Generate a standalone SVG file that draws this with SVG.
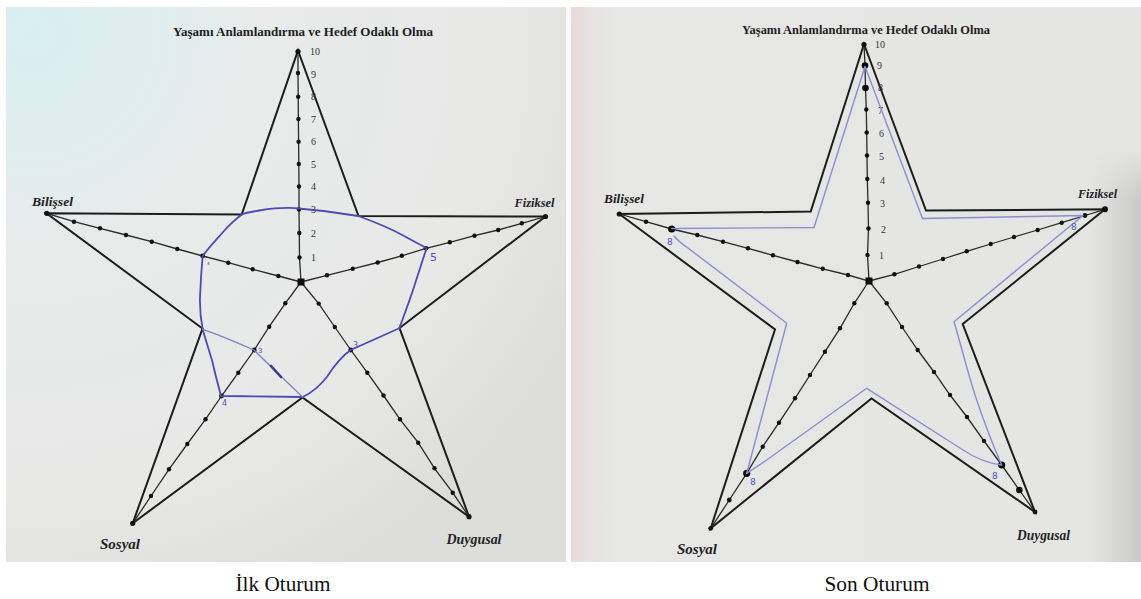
<svg xmlns="http://www.w3.org/2000/svg" width="1141" height="599" viewBox="0 0 1141 599">
  <defs>
    <radialGradient id="paperL" cx="0.05" cy="0.05" r="1.1">
      <stop offset="0" stop-color="#d8eff2"/>
      <stop offset="0.35" stop-color="#e7ebea"/>
      <stop offset="0.75" stop-color="#e8e8e7"/>
      <stop offset="1" stop-color="#dddddc"/>
    </radialGradient>
    <linearGradient id="paperR" x1="0" y1="0" x2="1" y2="0">
      <stop offset="0" stop-color="#eadad9"/>
      <stop offset="0.03" stop-color="#e6e2e1"/>
      <stop offset="0.08" stop-color="#e7e7e5"/>
      <stop offset="1" stop-color="#e4e4e2"/>
    </linearGradient>
    <linearGradient id="edgeR" x1="0" y1="0" x2="1" y2="0">
      <stop offset="0" stop-color="#cfcfcf" stop-opacity="0"/>
      <stop offset="0.5" stop-color="#cdcdcd" stop-opacity="0.6"/>
      <stop offset="1" stop-color="#c6c6c6" stop-opacity="0.9"/>
    </linearGradient>
    <linearGradient id="edgeFade" x1="0" y1="0" x2="0" y2="1">
      <stop offset="0" stop-color="#fff" stop-opacity="0"/>
      <stop offset="0.12" stop-color="#fff" stop-opacity="1"/>
      <stop offset="1" stop-color="#fff" stop-opacity="1"/>
    </linearGradient>
    <mask id="edgeMask">
      <rect x="1090" y="150" width="51" height="412" fill="url(#edgeFade)"/>
    </mask>
  </defs>
  <style>
    .star { fill: none; stroke: #1c1c1c; stroke-width: 2; stroke-linejoin: miter; }
    .axis { fill: none; stroke: #2a2a2a; stroke-width: 1.3; }
    .dot { fill: #111; }
    .big { fill: #0c0c0c; }
    .title { font-family: "Liberation Serif", "DejaVu Serif", serif; font-weight: 700; font-size: 12.5px; fill: #1e1e1e; text-anchor: middle; }
    .dim { font-family: "Liberation Serif", "DejaVu Serif", serif; font-weight: 700; font-style: italic; fill: #222; }
    .num { font-family: "Liberation Serif", "DejaVu Serif", serif; font-size: 10px; fill: #333; }
    .penL { fill: none; stroke: #4d4ab3; stroke-width: 1.8; stroke-linejoin: round; stroke-linecap: round; }
    .penL2 { fill: none; stroke: #7f7fc6; stroke-width: 1.3; stroke-linecap: round; }
    .penR { fill: none; stroke: #8c8ecf; stroke-width: 1.4; stroke-linejoin: round; stroke-linecap: round; }
    .hand { font-family: "DejaVu Sans", sans-serif; fill: #5553b8; }
    .caption { font-family: "Liberation Serif", "DejaVu Serif", serif; font-size: 22px; fill: #111; text-anchor: middle; }
  </style>

  <rect width="1141" height="599" fill="#ffffff"/>

  <!-- first session sheet -->
  <g id="panel-ilk">
    <rect x="6" y="7" width="560" height="555" fill="url(#paperL)"/>
    <text class="title" x="303" y="36" textLength="260" lengthAdjust="spacingAndGlyphs">Yaşamı Anlamlandırma ve Hedef Odaklı Olma</text>

    <g id="ilk-star">
      <polygon class="star" points="298,50.5 358.5,216 545.5,216.5 399.5,328 469,516.7 302.5,397.5 132.7,523.3 202.5,328.5 46.5,213.3 241.7,214.5"/>
    </g>

    <g id="ilk-axes">
      <polyline class="axis" points="301,282 299.5,257.5 299.3,233 299,209.5 299,186.5 298.8,164 298.6,141.7 298.4,119 298.2,96.7 298,73 298,51"/>
      <polyline class="axis" points="301,282 278.3,276 252.7,269.3 228.3,262.7 202.7,256 177.3,249 151.7,241.7 126,235 100,228.3 74,221.7 46.7,213.3"/>
      <polyline class="axis" points="301,282 327,275.3 352.7,268.8 377.7,262.5 401.8,255.8 426,248.3 449.8,242.3 474.5,235.7 498.2,230 521.8,223.3 545.5,216.5"/>
      <polyline class="axis" points="301,282 285.3,303.3 269.2,326.7 254.3,350 238.3,372.7 221.5,396 205.5,419.3 187.3,444 169,469.3 151,496 132.7,523.3"/>
      <polyline class="axis" points="301,282 318.7,303.6 334.8,327 350.8,350 367.3,372.7 383.5,395.5 400,419.3 418.2,442.7 434.5,468.3 452.7,492.7 469,516.7"/>
    </g>

    <g id="ilk-dots">
      <rect class="big" x="297.5" y="278.5" width="7" height="7"/>
      <circle class="dot" cx="299.5" cy="257.5" r="2.2"/><circle class="dot" cx="299.3" cy="233" r="2.2"/><circle class="dot" cx="299" cy="209.5" r="2.2"/><circle class="dot" cx="299" cy="186.5" r="2.2"/><circle class="dot" cx="298.8" cy="164" r="2.2"/><circle class="dot" cx="298.6" cy="141.7" r="2.2"/><circle class="dot" cx="298.4" cy="119" r="2.2"/><circle class="dot" cx="298.2" cy="96.7" r="2.2"/><circle class="dot" cx="298" cy="73" r="2.2"/><circle class="dot" cx="298" cy="51.5" r="2.6"/>
      <circle class="dot" cx="278.3" cy="276" r="2.2"/><circle class="dot" cx="252.7" cy="269.3" r="2.2"/><circle class="dot" cx="228.3" cy="262.7" r="2.2"/><circle class="dot" cx="202.7" cy="256" r="2.4"/><circle class="dot" cx="177.3" cy="249" r="2.2"/><circle class="dot" cx="151.7" cy="241.7" r="2.2"/><circle class="dot" cx="126" cy="235" r="2.2"/><circle class="dot" cx="100" cy="228.3" r="2.2"/><circle class="dot" cx="74" cy="221.7" r="2.2"/><circle class="dot" cx="46.7" cy="213.3" r="2.6"/>
      <circle class="dot" cx="327" cy="275.3" r="2.2"/><circle class="dot" cx="352.7" cy="268.8" r="2.2"/><circle class="dot" cx="377.7" cy="262.5" r="2.2"/><circle class="dot" cx="401.8" cy="255.8" r="2.2"/><circle class="dot" cx="426" cy="248.3" r="2.4"/><circle class="dot" cx="449.8" cy="242.3" r="2.2"/><circle class="dot" cx="474.5" cy="235.7" r="2.2"/><circle class="dot" cx="498.2" cy="230" r="2.2"/><circle class="dot" cx="521.8" cy="223.3" r="2.2"/><circle class="dot" cx="545.5" cy="216.5" r="2.6"/>
      <circle class="dot" cx="285.3" cy="303.3" r="2.2"/><circle class="dot" cx="269.2" cy="326.7" r="2.2"/><circle class="dot" cx="254.3" cy="350" r="2.4"/><circle class="dot" cx="238.3" cy="372.7" r="2.2"/><circle class="dot" cx="221.5" cy="396" r="2.4"/><circle class="dot" cx="205.5" cy="419.3" r="2.2"/><circle class="dot" cx="187.3" cy="444" r="2.2"/><circle class="dot" cx="169" cy="469.3" r="2.2"/><circle class="dot" cx="151" cy="496" r="2.2"/><circle class="dot" cx="132.7" cy="523.3" r="2.6"/>
      <circle class="dot" cx="318.7" cy="303.6" r="2.2"/><circle class="dot" cx="334.8" cy="327" r="2.2"/><circle class="dot" cx="350.8" cy="350" r="2.4"/><circle class="dot" cx="367.3" cy="372.7" r="2.2"/><circle class="dot" cx="383.5" cy="395.5" r="2.2"/><circle class="dot" cx="400" cy="419.3" r="2.2"/><circle class="dot" cx="418.2" cy="442.7" r="2.2"/><circle class="dot" cx="434.5" cy="468.3" r="2.2"/><circle class="dot" cx="452.7" cy="492.7" r="2.2"/><circle class="dot" cx="469" cy="516.7" r="2.6"/>
    </g>

    <g id="ilk-scale">
      <text class="num" x="310" y="55">10</text>
      <text class="num" x="311" y="78">9</text>
      <text class="num" x="311" y="100">8</text>
      <text class="num" x="311" y="123">7</text>
      <text class="num" x="311" y="145">6</text>
      <text class="num" x="311" y="168">5</text>
      <text class="num" x="311" y="190">4</text>
      <text class="num" x="311" y="213">3</text>
      <text class="num" x="311" y="237">2</text>
      <text class="num" x="311" y="261">1</text>
    </g>

    <g id="ilk-labels">
      <text class="dim" x="32" y="206" font-size="13" textLength="41" lengthAdjust="spacingAndGlyphs">Bilişsel</text>
      <text class="dim" x="514.5" y="207" font-size="13" textLength="40" lengthAdjust="spacingAndGlyphs">Fiziksel</text>
      <text class="dim" x="100" y="549" font-size="14.5" textLength="40" lengthAdjust="spacingAndGlyphs">Sosyal</text>
      <text class="dim" x="446.5" y="544" font-size="14.5" textLength="55" lengthAdjust="spacingAndGlyphs">Duygusal</text>
    </g>

    <!-- pen trace of the first session -->
    <g id="ilk-trace">
      <path class="penL" d="M298.5,208.5 C290,207 270,208.5 262,210 C252,211.5 245,213 241.7,214.5
        M298.5,208.5 C312,209.5 330,211 358.3,216
        C372,221 392,229 405,236.5 C415,242 422,245.5 426.5,248.3
        C422,262 417,278 413,290 C408,305 403,318 399.3,328.3
        L350.7,350
        C342,356 334,366 327,376.7 C319,387 311,393 302.7,397
        L221,396
        C218,384 215,374 212.5,362 C209,350 205,338 202.7,329.3
        C200,316 199.5,300 200.5,288 C201,276 201.8,266 202.7,256
        C210,246 218,238 224,231 C230,224 236,219 241.7,214.5"/>
      <path class="penL2" d="M202.7,329.3 C220,335 238,343 254,350 C268,364 285,380 302.7,397.3"/>
      <path d="M271,366 L281,377" stroke="#3b3895" stroke-width="2.6" stroke-linecap="round"/>
      <text class="hand" x="430" y="261" font-size="11">5</text>
      <text class="hand" x="353" y="348" font-size="8">3</text>
      <text class="hand" x="258" y="353" font-size="7" fill="#8b8bc8">3</text>
      <text class="hand" x="222" y="406" font-size="8">4</text>
      <text class="hand" x="207" y="265" font-size="4.5">4</text>
    </g>
  </g>

  <!-- last session sheet -->
  <g id="panel-son">
    <rect x="571" y="7" width="570" height="555" fill="url(#paperR)"/>
    <rect x="1090" y="150" width="51" height="412" fill="url(#edgeR)" mask="url(#edgeMask)"/>
    <text class="title" x="866" y="34" textLength="248" lengthAdjust="spacingAndGlyphs">Yaşamı Anlamlandırma ve Hedef Odaklı Olma</text>

    <g id="son-star">
      <polygon class="star" points="864,44 926,210.5 1105,209.3 962.7,324 1035,512 871.5,398.5 710.7,528.3 775,329.5 619.3,214 810.7,211.5"/>
    </g>

    <g id="son-axes">
      <polyline class="axis" points="869,281 867.5,255 868.5,228.5 868,202.7 867.3,179 867,155.5 866.7,132.5 866.3,109.5 865.5,88 865,65.5 864,44"/>
      <polyline class="axis" points="869,281 848,275 822.7,268.8 797.5,262 773,255.3 748,248.3 723,241.7 697.3,235 671.7,229 646,221.7 619.3,214"/>
      <polyline class="axis" points="869,281 894.4,274.3 919,266.5 943,259 966.7,251.3 990.7,244 1014,237 1037.7,230 1061.7,222.7 1085,215.5 1105,209.3"/>
      <polyline class="axis" points="869,281 854.3,303.3 840,328.3 825,351.7 810,375 795,398.3 779,422.7 762.7,446.7 746.7,473.3 729.3,500 710.7,528.3"/>
      <polyline class="axis" points="869,281 886.7,303.3 902,327 917.7,350 934,372 950,395 967,417 984,441 1001.7,465 1019.3,490 1035,512"/>
    </g>

    <g id="son-dots">
      <rect class="big" x="865.5" y="277.5" width="7" height="7"/>
      <circle class="dot" cx="867.5" cy="255" r="2.2"/><circle class="dot" cx="868.5" cy="228.5" r="2.2"/><circle class="dot" cx="868" cy="202.7" r="2.2"/><circle class="dot" cx="867.3" cy="179" r="2.2"/><circle class="dot" cx="867" cy="155.5" r="2.2"/><circle class="dot" cx="866.7" cy="132.5" r="2.2"/><circle class="dot" cx="866.3" cy="109.5" r="2.2"/><circle class="big" cx="865.5" cy="88" r="3.3"/><circle class="big" cx="865" cy="65.5" r="3.3"/><circle class="dot" cx="864" cy="44.5" r="2.6"/>
      <circle class="dot" cx="848" cy="275" r="2.2"/><circle class="dot" cx="822.7" cy="268.8" r="2.2"/><circle class="dot" cx="797.5" cy="262" r="2.2"/><circle class="dot" cx="773" cy="255.3" r="2.2"/><circle class="dot" cx="748" cy="248.3" r="2.2"/><circle class="dot" cx="723" cy="241.7" r="2.2"/><circle class="dot" cx="697.3" cy="235" r="2.2"/><circle class="big" cx="671.7" cy="229" r="3.6"/><circle class="dot" cx="646" cy="221.7" r="2.2"/><circle class="dot" cx="619.3" cy="214" r="2.6"/>
      <circle class="dot" cx="894.4" cy="274.3" r="2.2"/><circle class="dot" cx="919" cy="266.5" r="2.2"/><circle class="dot" cx="943" cy="259" r="2.2"/><circle class="dot" cx="966.7" cy="251.3" r="2.2"/><circle class="dot" cx="990.7" cy="244" r="2.2"/><circle class="dot" cx="1014" cy="237" r="2.2"/><circle class="dot" cx="1037.7" cy="230" r="2.2"/><circle class="dot" cx="1061.7" cy="222.7" r="2.2"/><circle class="dot" cx="1085" cy="215.5" r="2.4"/><circle class="big" cx="1105" cy="209.3" r="3"/>
      <circle class="dot" cx="854.3" cy="303.3" r="2.2"/><circle class="dot" cx="840" cy="328.3" r="2.2"/><circle class="dot" cx="825" cy="351.7" r="2.2"/><circle class="dot" cx="810" cy="375" r="2.2"/><circle class="dot" cx="795" cy="398.3" r="2.2"/><circle class="dot" cx="779" cy="422.7" r="2.2"/><circle class="dot" cx="762.7" cy="446.7" r="2.2"/><circle class="big" cx="746.7" cy="473.3" r="3.6"/><circle class="dot" cx="729.3" cy="500" r="2.4"/><circle class="dot" cx="710.7" cy="528.3" r="2.4"/>
      <circle class="dot" cx="886.7" cy="303.3" r="2.2"/><circle class="dot" cx="902" cy="327" r="2.2"/><circle class="dot" cx="917.7" cy="350" r="2.2"/><circle class="dot" cx="934" cy="372" r="2.2"/><circle class="dot" cx="950" cy="395" r="2.2"/><circle class="dot" cx="967" cy="417" r="2.2"/><circle class="dot" cx="984" cy="441" r="2.2"/><circle class="big" cx="1001.7" cy="465" r="3.6"/><circle class="big" cx="1019.3" cy="490" r="3.3"/><circle class="dot" cx="1035" cy="512" r="2.4"/>
    </g>

    <g id="son-scale">
      <text class="num" x="875" y="48">10</text>
      <text class="num" x="877" y="69">9</text>
      <text class="num" x="878" y="91">8</text>
      <text class="num" x="878" y="114">7</text>
      <text class="num" x="879" y="137">6</text>
      <text class="num" x="879" y="160">5</text>
      <text class="num" x="880" y="184">4</text>
      <text class="num" x="880" y="207">3</text>
      <text class="num" x="881" y="233">2</text>
      <text class="num" x="879" y="259">1</text>
    </g>

    <g id="son-labels">
      <text class="dim" x="604" y="203" font-size="13" textLength="40" lengthAdjust="spacingAndGlyphs">Bilişsel</text>
      <text class="dim" x="1078" y="198" font-size="13" textLength="39" lengthAdjust="spacingAndGlyphs">Fiziksel</text>
      <text class="dim" x="677" y="554" font-size="14" textLength="40" lengthAdjust="spacingAndGlyphs">Sosyal</text>
      <text class="dim" x="1017" y="540" font-size="14" textLength="53" lengthAdjust="spacingAndGlyphs">Duygusal</text>
    </g>

    <!-- pen trace of the last session -->
    <g id="son-trace">
      <path class="penR" d="M865,66.5 L814,227.5 L671.7,228.5
        M674,236 C678,241 682,244 688,248 L786.7,323.3
        L746.7,473.3
        L766.7,460 L866.7,388.3
        L963,450 C975,458 986,463 1001.7,465
        C995,450 985,425 975,395 C967,370 961,345 954,321.7
        L1083,215.5
        L922.5,218.5 L865,66.5"/>
      <text class="hand" x="667" y="245" font-size="9" fill="#6d6cc4">8</text>
      <text class="hand" x="1071" y="230" font-size="9" fill="#6d6cc4">8</text>
      <text class="hand" x="992" y="479" font-size="9" fill="#6d6cc4">8</text>
      <text class="hand" x="750" y="485" font-size="9" fill="#6d6cc4">8</text>
    </g>
  </g>

  <g id="captions">
    <text class="caption" x="283" y="591" textLength="95" lengthAdjust="spacingAndGlyphs">İlk Oturum</text>
    <text class="caption" x="877" y="591" textLength="105" lengthAdjust="spacingAndGlyphs">Son Oturum</text>
  </g>
</svg>
